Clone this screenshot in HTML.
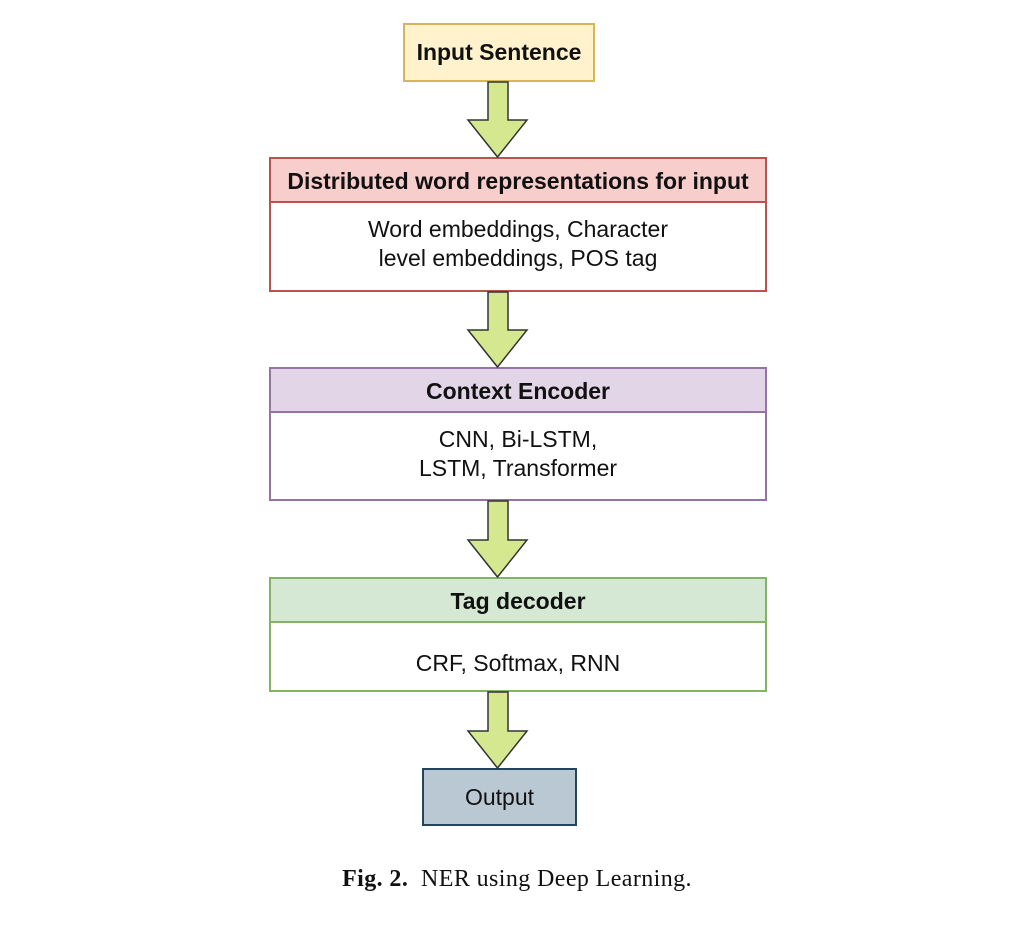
<!DOCTYPE html>
<html><head><style>
body{margin:0;background:#fff;width:1034px;height:934px;position:relative;font-family:"Liberation Sans",sans-serif;}
.b{position:absolute;box-sizing:border-box;text-align:center;color:#111;}
.h{position:absolute;left:0;right:0;top:0;height:44px;line-height:44px;font-weight:bold;font-size:23px;box-sizing:border-box;}
.c{position:absolute;left:0;right:0;font-size:23px;line-height:29px;}
svg{position:absolute;left:0;top:0}
</style></head><body>
<div class="b" style="left:403px;top:23px;width:192px;height:59px;background:#fff2cc;border:2px solid #d6b656;line-height:55px;font-weight:bold;font-size:23px;">Input Sentence</div>

<div class="b" style="left:269px;top:157px;width:498px;height:135px;border:2px solid #b85450;background:#fff;">
<div class="h" style="background:#f8cecc;border-bottom:2px solid #b85450;">Distributed word representations for input</div>
<div class="c" style="top:56px;">Word embeddings, Character<br>level embeddings, POS tag</div></div>

<div class="b" style="left:269px;top:367px;width:498px;height:134px;border:2px solid #9673a6;background:#fff;">
<div class="h" style="background:#e1d5e7;border-bottom:2px solid #9673a6;">Context Encoder</div>
<div class="c" style="top:56px;">CNN, Bi-LSTM,<br>LSTM, Transformer</div></div>

<div class="b" style="left:269px;top:577px;width:498px;height:115px;border:2px solid #82b366;background:#fff;">
<div class="h" style="background:#d5e8d4;border-bottom:2px solid #82b366;">Tag decoder</div>
<div class="c" style="top:70px;">CRF, Softmax, RNN</div></div>

<div class="b" style="left:422px;top:768px;width:155px;height:58px;background:#bac8d3;border:2px solid #23445d;line-height:54px;font-size:23px;">Output</div>

<svg width="1034" height="934">
<g fill="#d5e88f" stroke="#333" stroke-width="1.5">
<polygon points="488,82 508,82 508,120 527,120 497.5,157 468,120 488,120"/>
<polygon points="488,292 508,292 508,330 527,330 497.5,367 468,330 488,330"/>
<polygon points="488,501 508,501 508,540 527,540 497.5,577 468,540 488,540"/>
<polygon points="488,692 508,692 508,731 527,731 497.5,768 468,731 488,731"/>
</g>
</svg>
<div style="position:absolute;left:0;width:1034px;top:866px;text-align:center;font-family:'Liberation Serif',serif;font-size:24px;letter-spacing:0.4px;color:#111;"><b>Fig. 2.</b>&nbsp; NER using Deep Learning.</div>
</body></html>
